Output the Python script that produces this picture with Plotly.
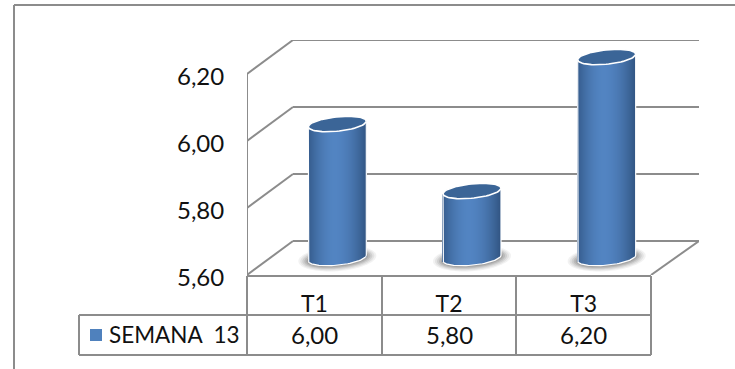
import numpy as np
import plotly.graph_objects as go

# Series and axis content
categories = ["T1", "T2", "T3"]
values = [6.00, 5.80, 6.20]
value_labels = ["6,00", "5,80", "6,20"]
series_name = "SEMANA  13"
y_ticks = [5.60, 5.80, 6.00, 6.20]
y_tick_labels = ["5,60", "5,80", "6,00", "6,20"]

# Canvas and plot geometry, in pixels
W, H = 735, 369
LEFT, RIGHT_BACK, TOP, BOTTOM = 247, 699, 40, 275
CAT_PX = 134.67
VAL_PX = 335.0
DEPTH_X, DEPTH_Y = 46, 34
GRID = "#8c8c8c"
FONT = "Lato"
INK = "#111111"

# Pixel lengths expressed in axis units
depth_x = DEPTH_X / CAT_PX
depth_y = DEPTH_Y / VAL_PX
y_min = y_ticks[0]
n = len(categories)

RX, RY, SHEAR = 29 / CAT_PX, 7.2 / VAL_PX, 2.8 / VAL_PX
STRIPS = 58


def ellipse(cx, cy, rx, ry, k, num=72):
    t = np.linspace(0, 2 * np.pi, num)
    return cx + rx * np.cos(t), cy + ry * np.sin(t) + k * np.cos(t)


def path(xs, ys):
    return "M" + " L".join(f"{a:.5f},{b:.5f}" for a, b in zip(xs, ys)) + " Z"


def shade(u):
    # Horizontal shading of a cylinder side, u running from -1 to 1
    dark_l = np.array([52, 90, 138])
    dark_r = np.array([50, 86, 132])
    light = np.array([82, 132, 194])
    c = -0.08
    if u < c:
        f = ((c - u) / (1 + c)) ** 1.8
        rgb = light + (dark_l - light) * f
    else:
        f = ((u - c) / (1 - c)) ** 1.8
        rgb = light + (dark_r - light) * f
    return "rgb({:.0f},{:.0f},{:.0f})".format(*rgb)


fig = go.Figure()
shapes = []


def line_shape(x0, y0, x1, y1, width=2, color=GRID):
    shapes.append(dict(type="line", xref="x", yref="y", x0=x0, y0=y0, x1=x1, y1=y1,
                       line=dict(color=color, width=width), layer="below"))


# Walls and floor of the oblique frame
for tick in y_ticks:
    line_shape(0, tick, depth_x, tick + depth_y)
    line_shape(depth_x, tick + depth_y, (RIGHT_BACK - LEFT) / CAT_PX, tick + depth_y)
line_shape(0, y_ticks[0], 0, y_ticks[-1])
line_shape(n, y_min, (RIGHT_BACK - LEFT) / CAT_PX, y_min + depth_y)

# Soft contact shadows under the cylinders
for i in range(n):
    cx = i + 0.5 + depth_x / 2
    cy = y_min + depth_y / 2
    for grow, alpha in [(10, 0.07), (8, 0.09), (6, 0.12), (4, 0.15), (2, 0.18)]:
        xs, ys = ellipse(cx, cy - 0.5 / VAL_PX, RX + grow / CAT_PX, RY + (grow * 0.55) / VAL_PX, SHEAR)
        shapes.append(dict(type="path", xref="x", yref="y", path=path(xs, ys),
                           fillcolor=f"rgba(70,70,70,{alpha})", line=dict(width=0), layer="below"))

# Cylinder sides: vertical strips whose tops follow the values
for i, value in enumerate(values):
    cx = i + 0.5 + depth_x / 2
    u = (np.arange(STRIPS) + 0.5) / STRIPS * 2 - 1
    top = value + depth_y / 2 + SHEAR * u
    base = y_min + depth_y / 2 + SHEAR * u - RY * np.sqrt(1 - u ** 2)
    fig.add_trace(go.Bar(
        x=cx + u * RX, y=top - base, base=base,
        width=2 * RX / STRIPS * 1.15,
        marker=dict(color=[shade(a) for a in u], line=dict(width=0)),
        showlegend=False, hoverinfo="skip",
    ))

# Cylinder caps and the pale rim around each side
for i, value in enumerate(values):
    cx = i + 0.5 + depth_x / 2
    cy = value + depth_y / 2
    xs, ys = ellipse(cx, cy, RX, RY, SHEAR)
    fig.add_trace(go.Scatter(x=xs, y=ys, mode="lines", fill="toself", fillcolor="#3b6597",
                             line=dict(color="white", width=1.6), cliponaxis=False,
                             showlegend=False, hoverinfo="skip"))
    t = np.linspace(np.pi, 2 * np.pi, 40)
    bx = cx + RX * np.cos(t)
    by = y_min + depth_y / 2 + RY * np.sin(t) + SHEAR * np.cos(t)
    fig.add_trace(go.Scatter(
        x=np.r_[cx - RX, bx, cx + RX],
        y=np.r_[cy - SHEAR, by, cy + SHEAR],
        mode="lines", line=dict(color="white", width=1.2), cliponaxis=False,
        showlegend=False, hoverinfo="skip"))


# Paper coordinates are relative to the plot area
def px_x(p):
    return (p - LEFT) / (RIGHT_BACK - LEFT)


def px_y(p):
    return (BOTTOM - p) / (BOTTOM - TOP)


paper_shapes = []


def frame(x0, y0, x1, y1, width=2):
    paper_shapes.append(dict(type="line", xref="paper", yref="paper",
                             x0=px_x(x0), y0=px_y(y0), x1=px_x(x1), y1=px_y(y1),
                             line=dict(color=GRID, width=width)))


# Outer border, open on the right and at the bottom
frame(14, 5, W, 5)
frame(14, 5, 14, H)

# Data table under the floor
ROW_1, ROW_2, ROW_3 = 276, 315, 355
COLS = [247, 382, 516, 651]
frame(COLS[0], ROW_1, COLS[-1], ROW_1)
frame(79, ROW_2, COLS[-1], ROW_2)
frame(79, ROW_3, COLS[-1], ROW_3)
frame(79, ROW_2, 79, ROW_3)
for c in COLS:
    frame(c, ROW_1, c, ROW_3)

annotations = [
    dict(x=i + 0.5, xref="x", y=px_y(334.5), yref="paper", text=label, showarrow=False,
         xanchor="center", yanchor="middle",
         font=dict(family=FONT, size=24, color=INK))
    for i, label in enumerate(value_labels)
]
annotations.append(dict(x=px_x(107), xref="paper", y=px_y(334.5), yref="paper", text=series_name,
                        xanchor="left", yanchor="middle", showarrow=False,
                        font=dict(family=FONT, size=22.5, color=INK)))
paper_shapes.append(dict(type="rect", xref="paper", yref="paper",
                         x0=px_x(90), x1=px_x(102), y0=px_y(341), y1=px_y(329),
                         fillcolor="#4f81bd", line=dict(width=0)))

fig.update_layout(
    width=W, height=H, autosize=False,
    margin=dict(l=LEFT, r=W - RIGHT_BACK, t=TOP, b=H - BOTTOM, pad=0),
    paper_bgcolor="white", plot_bgcolor="rgba(0,0,0,0)",
    barmode="overlay", bargap=0,
    showlegend=False,
    shapes=shapes + paper_shapes,
    annotations=annotations,
    font=dict(family=FONT, size=19, color=INK),
    xaxis=dict(range=[0, (RIGHT_BACK - LEFT) / CAT_PX],
               tickmode="array", tickvals=[i + 0.5 for i in range(n)], ticktext=categories,
               showgrid=False, zeroline=False, showline=False,
               ticks="outside", ticklen=8, tickcolor="rgba(0,0,0,0)",
               tickfont=dict(family=FONT, size=23, color=INK)),
    yaxis=dict(range=[y_min, y_min + (BOTTOM - TOP) / VAL_PX],
               tickmode="array", tickvals=y_ticks, ticktext=y_tick_labels,
               showgrid=False, zeroline=False, showline=False,
               ticks="outside", ticklen=17, tickcolor="rgba(0,0,0,0)",
               ticklabelshift=3,
               tickfont=dict(family=FONT, size=24, color=INK)),
)

fig.write_html("out.html", config=dict(displayModeBar=False))
